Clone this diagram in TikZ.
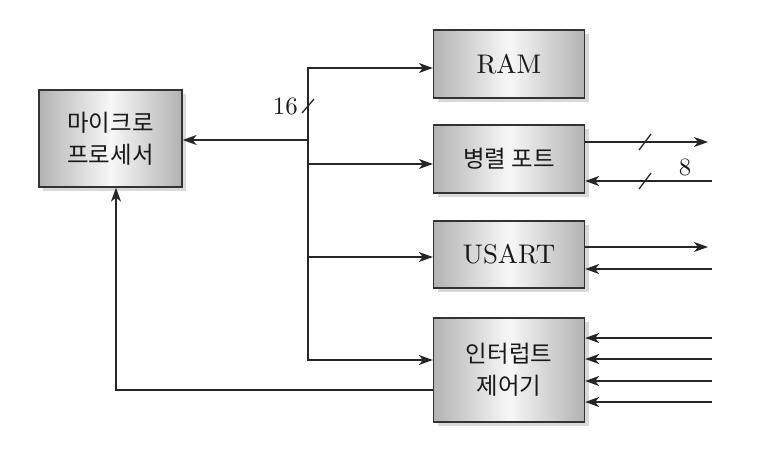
\documentclass[tikz,border=0pt]{standalone}
\usepackage{fontspec}
\newfontfamily\kr{Noto Sans CJK KR}
\newfontfamily\latf{lmroman10-regular}[Extension=.otf]
\usetikzlibrary{arrows.meta,shadows}
\begin{document}
\begin{tikzpicture}[x=1bp,y=-1bp,
  blk/.style={draw=black!80, line width=1.3bp, left color=black!30, right color=black!30, middle color=black!3,
    minimum width=151bp, inner sep=0pt, text=black!90, align=center,
    general shadow={fill=black!15, shadow xshift=4bp, shadow yshift=-4bp}},
  krt/.style={font=\kr\fontsize{23.5}{32}\selectfont},
  lat/.style={font=\latf\fontsize{27}{30}\selectfont},
  arr/.style={line width=1.3bp, draw=black!85, -{Stealth[length=14bp,width=10bp,inset=4bp]}},
  ln/.style={line width=1.3bp, draw=black!85},
  num/.style={font=\latf\fontsize{25}{28}\selectfont, text=black!90, inner sep=0pt}]
\useasboundingbox (0,0) rectangle (773,456);
\node[blk, krt, minimum width=143bp, minimum height=97bp] (mp) at (110.5,138.5) {마이크로\\프로세서};
\node[blk, lat, minimum height=68bp] (ram) at (509,64) {RAM};
\node[blk, krt, minimum height=68bp] (pp) at (509,159) {병렬 포트};
\node[blk, lat, minimum height=67bp] (us) at (509,254.5) {USART};
\node[blk, krt, minimum height=104bp] (ic) at (509,370) {인터럽트\\제어기};

\coordinate (bus) at (308,140);
\draw[arr] (bus) -- (mp.east |- bus);
\draw[arr] (bus) |- ([yshift=-4bp]ram.west);
\draw[arr] (bus) |- ([yshift=10bp]ic.west);
\draw[arr] ([yshift=-5bp]pp.west -| bus) -- ([yshift=-5bp]pp.west);
\draw[arr] ([yshift=-2.5bp]us.west -| bus) -- ([yshift=-2.5bp]us.west);
\draw[ln] (302,113) -- (314,99);
\node[num, anchor=east] (n16) at (298,106) {16};

% parallel port
\coordinate (ppo) at (708,142);
\coordinate (ppi) at (712,181);
\draw[arr] (pp.east |- ppo) -- (ppo);
\draw[arr] (ppi) -- (pp.east |- ppi);
\draw[ln] (639,150) -- (651,134);
\draw[ln] (639,189) -- (651,173);
\node[num] (n8) at (685,167) {8};

% USART
\coordinate (uso) at (708,247);
\coordinate (usi) at (712,269);
\draw[arr] (us.east |- uso) -- (uso);
\draw[arr] (usi) -- (us.east |- usi);

% interrupt inputs
\foreach \yy [count=\i] in {338,359,381,402}{
  \coordinate (ici\i) at (712,\yy);
  \draw[arr] (ici\i) -- (ic.east |- ici\i);
}

% feedback
\coordinate (fb) at (116,390);
\draw[arr] (ic.west |- fb) -| (mp.south -| fb);
\end{tikzpicture}
\end{document}
